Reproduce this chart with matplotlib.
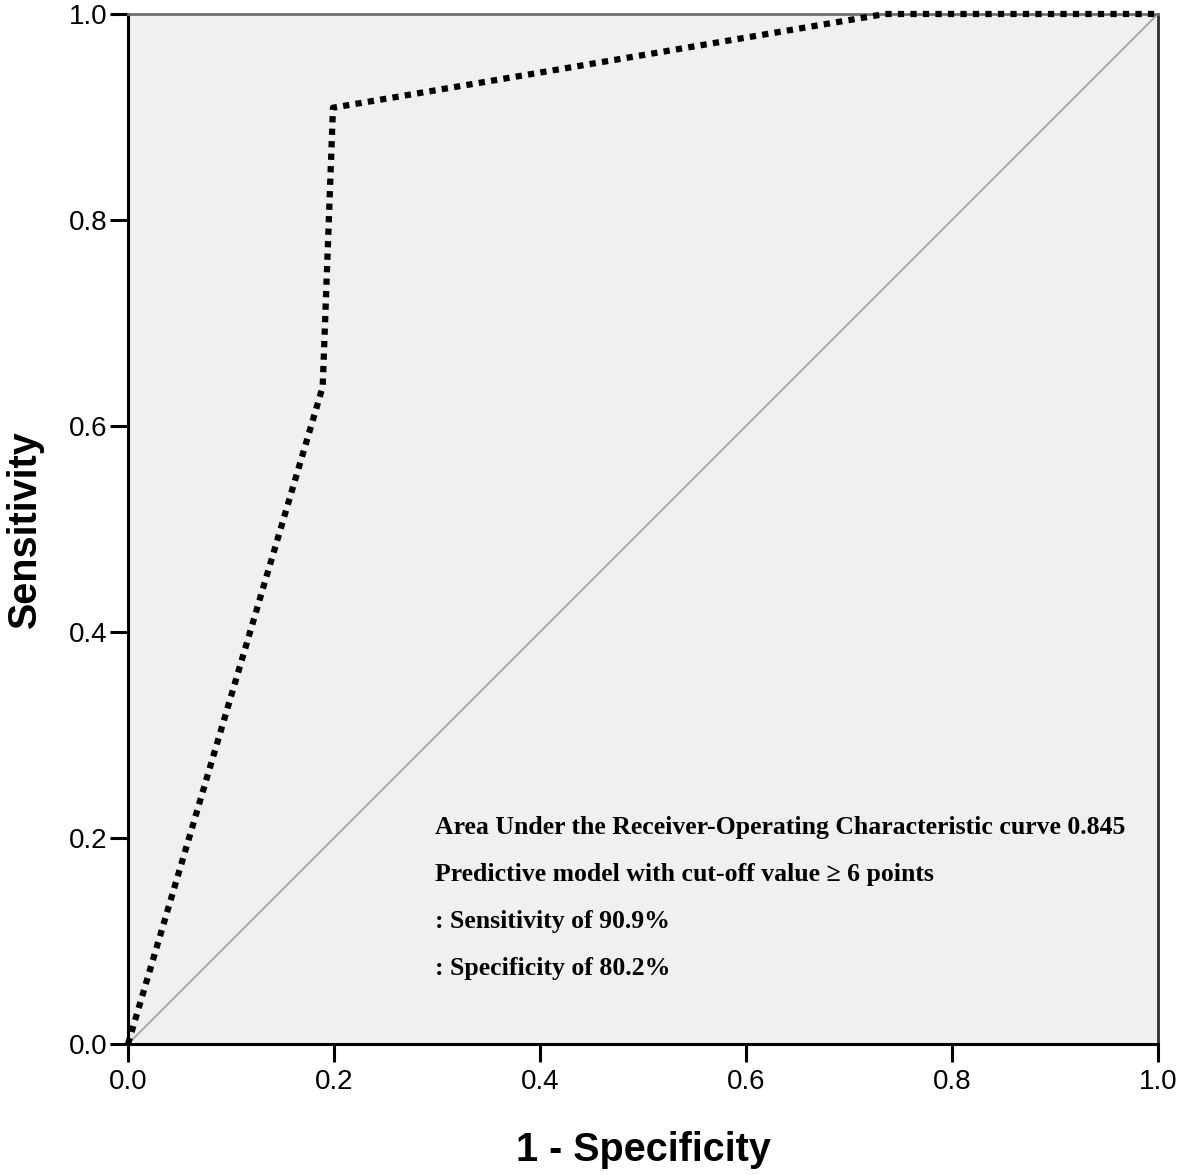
import matplotlib.pyplot as plt

# ROC curve points (1 - specificity, sensitivity)
fpr = [0.0, 0.189, 0.199, 0.735, 1.0]
tpr = [0.0, 0.638, 0.909, 1.0, 1.0]
ref_line = [0.0, 1.0]

ticks = [0.0, 0.2, 0.4, 0.6, 0.8, 1.0]
tick_labels = ['0.0', '0.2', '0.4', '0.6', '0.8', '1.0']

notes = [
    'Area Under the Receiver-Operating Characteristic curve 0.845',
    'Predictive model with cut-off value \u2265 6 points',
    ': Sensitivity of 90.9%',
    ': Specificity of 80.2%',
]

plt.rcParams['font.family'] = ['Liberation Sans', 'DejaVu Sans']

fig = plt.figure(figsize=(11.81, 11.75), dpi=100)
ax = fig.add_axes([0.1084, 0.1115, 0.8721, 0.8766])
ax.set_facecolor('#f0f0f0')

ax.plot(ref_line, ref_line, color='#a0a0a0', linewidth=1.2)
ax.plot(fpr, tpr, color='black', linewidth=4.5, linestyle=(0, (1, 1)),
        dash_capstyle='butt', solid_joinstyle='miter', clip_on=False, zorder=5)

ax.set_xlim(0, 1)
ax.set_ylim(0, 1)
ax.set_xticks(ticks)
ax.set_xticklabels(tick_labels)
ax.set_yticks(ticks)
ax.set_yticklabels(tick_labels)
ax.tick_params(axis='both', direction='out', length=13, width=2.2, labelsize=20)
ax.tick_params(axis='x', pad=5)
ax.tick_params(axis='y', pad=2)

for side in ['left', 'bottom']:
    ax.spines[side].set_linewidth(2.2)
    ax.spines[side].set_color('black')
ax.spines['top'].set_color('#707070')
ax.spines['top'].set_linewidth(2)
ax.spines['right'].set_color('#303030')
ax.spines['right'].set_linewidth(2)

ax.set_xlabel('1 - Specificity', fontsize=28.5, fontweight='bold', labelpad=26)
ax.set_ylabel('Sensitivity', fontsize=28.5, fontweight='bold', labelpad=18)

y0 = 0.210
for i, line in enumerate(notes):
    ax.text(0.298, y0 - i * 0.0455, line, fontsize=18.5, fontweight='bold',
            family='Liberation Serif', va='center', ha='left')

fig.savefig('out.png', dpi=100)
